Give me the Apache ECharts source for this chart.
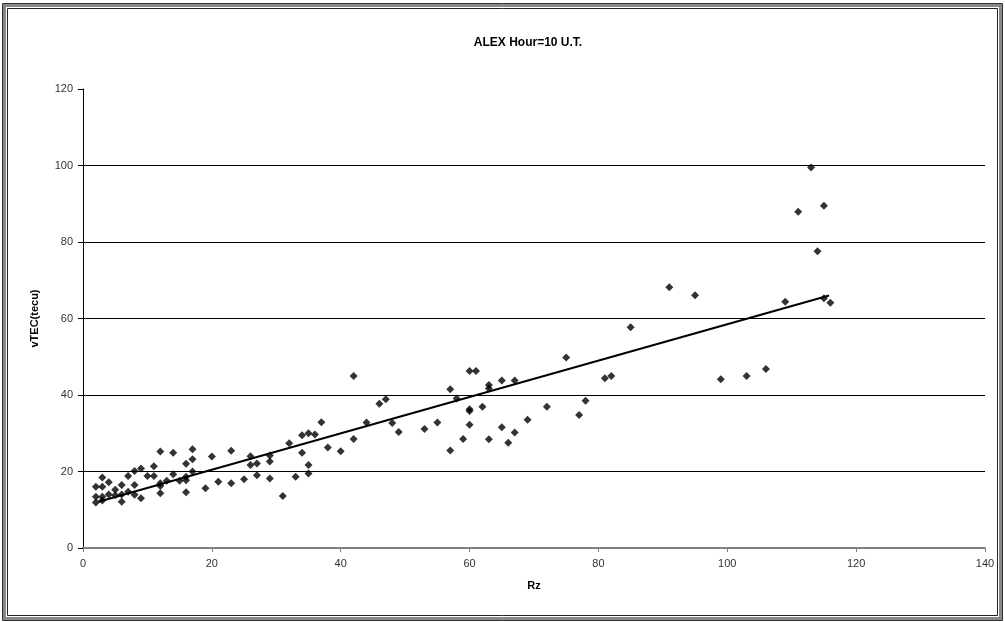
<!DOCTYPE html>
<html>
<head>
<meta charset="utf-8">
<script src="https://cdn.jsdelivr.net/npm/echarts@6/dist/echarts.min.js"></script>
<style>
html,body{margin:0;padding:0;background:#fff;}
#chart{width:1005px;height:622px;}
</style>
</head>
<body>
<div id="chart"></div>
<script>
var titleText = 'ALEX Hour=10 U.T.';
var xName = 'Rz';
var yName = 'vTEC(tecu)';
var rzValues = [2,3,3,4,2,3,2,3,4,5,5,6,6,6,7,7,8,8,8,9,9,10,11,11,12,12,12,12,13,14,14,15,16,16,16,16,17,17,17,19,20,21,23,23,25,26,26,27,27,29,29,29,31,32,33,34,34,35,35,35,36,37,38,40,42,42,44,46,47,48,49,53,55,57,57,58,59,60,61,60,60,60,62,63,63,63,65,65,66,67,67,69,72,75,77,78,81,82,85,91,95,99,103,106,109,111,113,114,115,115,116];
var vtecValues = [16.0,16.0,18.4,17.2,13.4,13.4,11.9,12.4,14.0,15.2,13.8,16.5,14.0,12.1,18.8,14.7,20.1,16.5,13.9,20.8,13.0,18.8,21.4,18.8,25.2,16.9,16.2,14.3,17.6,24.9,19.3,17.6,22.0,18.6,17.7,14.6,25.8,23.2,20.0,15.6,23.9,17.3,25.4,16.9,18.0,24.0,21.7,22.1,19.0,24.2,22.6,18.2,13.6,27.4,18.6,29.5,24.9,30.0,21.7,19.5,29.7,32.9,26.3,25.3,45.0,28.5,32.8,37.7,38.9,32.7,30.3,31.1,32.8,41.5,25.5,39.1,28.5,46.3,46.3,36.3,35.8,32.2,36.9,42.6,41.7,28.4,43.8,31.6,27.5,43.8,30.2,33.5,36.9,49.8,34.8,38.5,44.4,45.0,57.7,68.2,66.1,44.1,45.0,46.8,64.4,87.9,99.5,77.6,89.5,65.3,64.1];
var trendX = [2.4, 115.8];
var trendY = [12.1, 66.0];

var points = rzValues.map(function(x, i){ return [x, vtecValues[i]]; });
var trend = trendX.map(function(x, i){ return [x, trendY[i]]; });

var chart = echarts.init(document.getElementById('chart'), null, {renderer:'canvas'});
var font = 'Liberation Sans, Arial, sans-serif';
chart.setOption({
  animation: false,
  backgroundColor: '#fff',
  title: {
    text: titleText, left: 523, top: 32, textAlign: 'center',
    textStyle: {fontFamily: font, fontSize: 12, fontWeight: 'bold', color: '#000'}
  },
  graphic: [
    {type:'rect', shape:{x:4.5, y:5.5, width:996, height:613}, style:{fill:'none', stroke:'#888', lineWidth:3}, silent:true},
    {type:'rect', shape:{x:7.5, y:8.5, width:990, height:607}, style:{fill:'none', stroke:'#222', lineWidth:1}, silent:true},
    {type:'rect', shape:{x:2.5, y:3.5, width:1000, height:617}, style:{fill:'none', stroke:'#333', lineWidth:1}, silent:true}
  ],
  grid: {left: 83, right: 20, top: 89, bottom: 74, containLabel: false},
  xAxis: {
    type: 'value', min: 0, max: 140, interval: 20,
    name: xName, nameLocation: 'middle', nameGap: 32,
    nameTextStyle: {fontFamily: font, fontSize: 11, fontWeight: 'bold', color: '#000'},
    axisLine: {show: true, onZero: false, lineStyle: {color: '#808080', width: 2}},
    axisTick: {show: true, inside: false, length: 4, lineStyle: {color: '#808080'}},
    axisLabel: {fontFamily: font, fontSize: 11, color: '#333', margin: 10},
    splitLine: {show: false}
  },
  yAxis: {
    type: 'value', min: 0, max: 120, interval: 20,
    name: yName, nameLocation: 'middle', nameGap: 43, nameRotate: 90,
    nameTextStyle: {fontFamily: font, fontSize: 11, fontWeight: 'bold', color: '#000'},
    axisLine: {show: true, lineStyle: {color: '#000', width: 1}},
    axisTick: {show: true, inside: false, length: 5, lineStyle: {color: '#000'}},
    axisLabel: {fontFamily: font, fontSize: 11, color: '#333', margin: 10},
    splitLine: {show: true, showMinLine: false, showMaxLine: false, lineStyle: {color: '#000', width: 1}}
  },
  series: [
    {
      type: 'scatter', data: points, symbol: 'diamond', symbolSize: 8,
      itemStyle: {color: '#000'}, z: 3
    },
    {
      type: 'line', data: trend, symbol: 'none', showSymbol: false,
      lineStyle: {color: '#000', width: 2}, z: 4
    }
  ]
});
</script>
</body>
</html>
